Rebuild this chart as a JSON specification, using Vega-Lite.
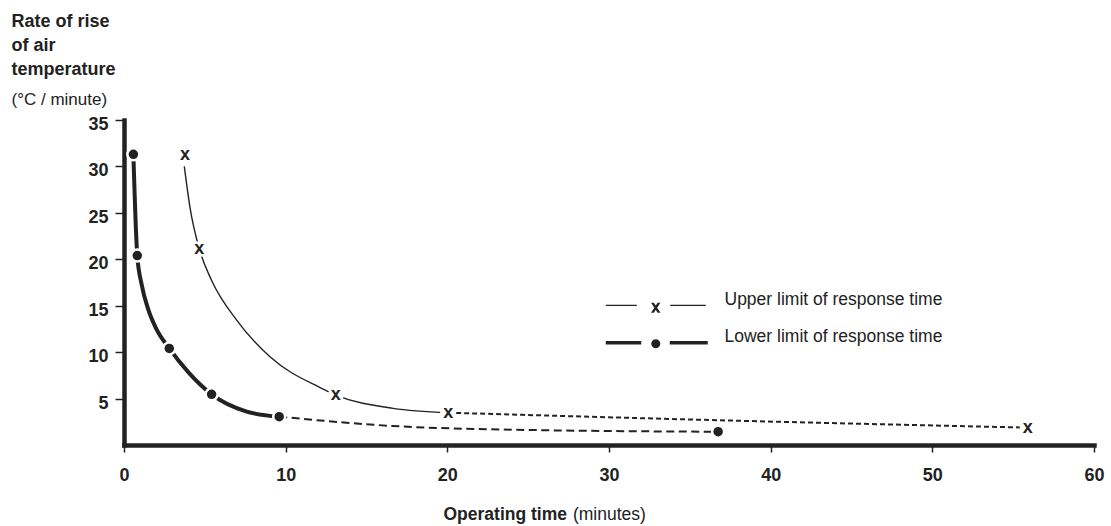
{
  "$schema": "https://vega.github.io/schema/vega-lite/v6.json",
  "width": 970,
  "height": 325,
  "autosize": {"type": "none"},
  "padding": {"left": 124, "top": 120, "right": 17, "bottom": 81},
  "background": "white",
  "config": {"font": "Liberation Sans", "view": {"stroke": null}, "axis": {"grid": false}},
  "datasets": {
    "curves": [
      {"seg": "upper_solid", "x": 3.73, "y": 30.0},
      {"seg": "upper_solid", "x": 4.08, "y": 25.6},
      {"seg": "upper_solid", "x": 4.66, "y": 21.1},
      {"seg": "upper_solid", "x": 5.4, "y": 17.8},
      {"seg": "upper_solid", "x": 6.97, "y": 13.45},
      {"seg": "upper_solid", "x": 9.03, "y": 9.5},
      {"seg": "upper_solid", "x": 12.1, "y": 6.2},
      {"seg": "upper_solid", "x": 13.1, "y": 5.38},
      {"seg": "upper_solid", "x": 16.65, "y": 3.95},
      {"seg": "upper_solid", "x": 20.05, "y": 3.48},
      {"seg": "upper_dashed", "x": 20.05, "y": 3.48},
      {"seg": "upper_dashed", "x": 35.6, "y": 2.72},
      {"seg": "upper_dashed", "x": 55.9, "y": 1.87},
      {"seg": "lower_solid", "x": 0.58, "y": 31.3},
      {"seg": "lower_solid", "x": 0.82, "y": 20.4},
      {"seg": "lower_solid", "x": 1.09, "y": 17.3},
      {"seg": "lower_solid", "x": 1.5, "y": 14.6},
      {"seg": "lower_solid", "x": 2.0, "y": 12.5},
      {"seg": "lower_solid", "x": 2.8, "y": 10.4},
      {"seg": "lower_solid", "x": 4.0, "y": 7.8},
      {"seg": "lower_solid", "x": 5.42, "y": 5.46},
      {"seg": "lower_solid", "x": 7.59, "y": 3.6},
      {"seg": "lower_solid", "x": 9.6, "y": 3.05},
      {"seg": "lower_dashed", "x": 9.6, "y": 3.05},
      {"seg": "lower_dashed", "x": 16.6, "y": 2.05},
      {"seg": "lower_dashed", "x": 25, "y": 1.62},
      {"seg": "lower_dashed", "x": 36.75, "y": 1.43}
    ],
    "markers": [
      {"series": "Upper limit of response time", "x": 3.77, "y": 31.2},
      {"series": "Upper limit of response time", "x": 4.66, "y": 21.1},
      {"series": "Upper limit of response time", "x": 13.1, "y": 5.38},
      {"series": "Upper limit of response time", "x": 20.05, "y": 3.48},
      {"series": "Upper limit of response time", "x": 55.9, "y": 1.87},
      {"series": "Lower limit of response time", "x": 0.58, "y": 31.3},
      {"series": "Lower limit of response time", "x": 0.82, "y": 20.4},
      {"series": "Lower limit of response time", "x": 2.8, "y": 10.4},
      {"series": "Lower limit of response time", "x": 5.42, "y": 5.46},
      {"series": "Lower limit of response time", "x": 9.6, "y": 3.05},
      {"series": "Lower limit of response time", "x": 36.75, "y": 1.43}
    ]
  },
  "layer": [
    {
      "data": {"name": "curves"},
      "transform": [{"filter": "datum.seg === 'upper_solid'"}],
      "mark": {"type": "line", "interpolate": "monotone", "color": "#222222", "strokeWidth": 1.4, "strokeCap": "butt"},
      "encoding": {
        "x": {
          "field": "x", "type": "quantitative",
          "scale": {"domain": [0, 60], "nice": false, "zero": false},
          "axis": {
            "values": [0, 10, 20, 30, 40, 50, 60],
            "domainColor": "#222222", "domainWidth": 4.5, "domainCap": "square",
            "tickColor": "#222222", "tickWidth": 1.5, "tickSize": 7,
            "labelFontSize": 18, "labelFontWeight": "bold", "labelColor": "#222222",
            "labelPadding": 14, "labelFlush": false, "labelOverlap": false, "labelBound": false,
            "title": "Operating time", "titleFontSize": 17.5, "titleFontWeight": "bold", "titleColor": "#222222",
            "titleX": 319, "titleY": 74, "titleAlign": "left", "titleBaseline": "alphabetic", "titleAngle": 0
          }
        },
        "y": {
          "field": "y", "type": "quantitative",
          "scale": {"domain": [0, 35], "nice": false, "zero": false},
          "axis": {
            "values": [5, 10, 15, 20, 25, 30, 35],
            "domainColor": "#222222", "domainWidth": 4.5, "domainCap": "square",
            "tickColor": "#222222", "tickWidth": 1.5, "tickSize": 9,
            "labelFontSize": 18, "labelFontWeight": "bold", "labelColor": "#222222",
            "labelPadding": 7, "labelOffset": 4.5, "labelOverlap": false, "labelBound": false,
            "title": ["Rate of rise", "of air", "temperature"],
            "titleFontSize": 18, "titleFontWeight": "bold", "titleColor": "#222222", "titleLineHeight": 24,
            "titleX": -113, "titleY": -94, "titleAlign": "left", "titleBaseline": "alphabetic", "titleAngle": 0
          }
        },
        "order": {"field": "x", "type": "quantitative"}
      }
    },
    {
      "data": {"name": "curves"},
      "transform": [{"filter": "datum.seg === 'upper_dashed'"}],
      "mark": {"type": "line", "interpolate": "monotone", "color": "#222222", "strokeWidth": 2, "strokeDash": [5, 3], "strokeCap": "butt"},
      "encoding": {
        "x": {"field": "x", "type": "quantitative", "scale": {"domain": [0, 60], "nice": false, "zero": false}, "axis": null},
        "y": {"field": "y", "type": "quantitative", "scale": {"domain": [0, 35], "nice": false, "zero": false}, "axis": null},
        "order": {"field": "x", "type": "quantitative"}
      }
    },
    {
      "data": {"name": "curves"},
      "transform": [{"filter": "datum.seg === 'lower_solid'"}],
      "mark": {"type": "line", "interpolate": "monotone", "color": "#222222", "strokeWidth": 4, "strokeCap": "butt"},
      "encoding": {
        "x": {"field": "x", "type": "quantitative", "scale": {"domain": [0, 60], "nice": false, "zero": false}, "axis": null},
        "y": {"field": "y", "type": "quantitative", "scale": {"domain": [0, 35], "nice": false, "zero": false}, "axis": null},
        "order": {"field": "x", "type": "quantitative"}
      }
    },
    {
      "data": {"name": "curves"},
      "transform": [{"filter": "datum.seg === 'lower_dashed'"}],
      "mark": {"type": "line", "interpolate": "monotone", "color": "#222222", "strokeWidth": 2, "strokeDash": [8, 4.5], "strokeCap": "butt"},
      "encoding": {
        "x": {"field": "x", "type": "quantitative", "scale": {"domain": [0, 60], "nice": false, "zero": false}, "axis": null},
        "y": {"field": "y", "type": "quantitative", "scale": {"domain": [0, 35], "nice": false, "zero": false}, "axis": null},
        "order": {"field": "x", "type": "quantitative"}
      }
    },
    {
      "data": {"name": "markers"},
      "transform": [{"filter": "datum.series === 'Upper limit of response time'"}],
      "mark": {"type": "point", "shape": "circle", "filled": true, "fill": "white", "stroke": null, "size": 256, "opacity": 1},
      "encoding": {
        "x": {"field": "x", "type": "quantitative", "scale": {"domain": [0, 60], "nice": false, "zero": false}, "axis": null},
        "y": {"field": "y", "type": "quantitative", "scale": {"domain": [0, 35], "nice": false, "zero": false}, "axis": null}
      }
    },
    {
      "data": {"name": "markers"},
      "transform": [{"filter": "datum.series === 'Upper limit of response time'"}],
      "mark": {"type": "text", "text": "x", "fontSize": 18, "fontWeight": "bold", "baseline": "alphabetic", "align": "center", "dy": 5, "color": "#222222"},
      "encoding": {
        "x": {"field": "x", "type": "quantitative", "scale": {"domain": [0, 60], "nice": false, "zero": false}, "axis": null},
        "y": {"field": "y", "type": "quantitative", "scale": {"domain": [0, 35], "nice": false, "zero": false}, "axis": null}
      }
    },
    {
      "data": {"name": "markers"},
      "transform": [{"filter": "datum.series === 'Lower limit of response time'"}],
      "mark": {"type": "point", "shape": "circle", "filled": true, "fill": "#222222", "stroke": "white", "strokeWidth": 2.5, "size": 144, "opacity": 1},
      "encoding": {
        "x": {"field": "x", "type": "quantitative", "scale": {"domain": [0, 60], "nice": false, "zero": false}, "axis": null},
        "y": {"field": "y", "type": "quantitative", "scale": {"domain": [0, 35], "nice": false, "zero": false}, "axis": null}
      }
    },
    {
      "data": {"name": "markers"},
      "transform": [{"filter": "datum.series === 'Upper limit of response time'"}],
      "mark": {"type": "point", "opacity": 0, "size": 100, "filled": true, "fill": "#222222", "strokeWidth": 1.3},
      "encoding": {
        "x": {
          "field": "x", "type": "quantitative", "scale": {"domain": [0, 60], "nice": false, "zero": false},
          "axis": {
            "orient": "top", "domain": false, "ticks": false, "labels": false,
            "title": "(°C / minute)", "titleFontSize": 17, "titleFontWeight": "normal", "titleColor": "#222222",
            "titleX": -113, "titleY": -16, "titleAlign": "left", "titleBaseline": "alphabetic", "titleAngle": 0
          }
        },
        "y": {
          "field": "y", "type": "quantitative", "scale": {"domain": [0, 35], "nice": false, "zero": false},
          "axis": {
            "orient": "right", "domain": false, "ticks": false, "labels": false,
            "title": "(minutes)", "titleFontSize": 17.5, "titleFontWeight": "normal", "titleColor": "#222222",
            "titleX": -521.6, "titleY": 399, "titleAlign": "left", "titleBaseline": "alphabetic", "titleAngle": 0
          }
        },
        "stroke": {
          "field": "series", "type": "nominal",
          "scale": {"domain": ["Upper limit of response time"], "range": ["#222222"]},
          "legend": {
            "orient": "none", "legendX": 523, "legendY": 171, "title": null, "padding": 0,
            "symbolType": "M-10,1.14H-3.8M2.9,1.14H10M-0.7,0.73L-0.45,0.73L0.7,2.47L0.45,2.47ZM0.7,0.73L0.45,0.73L-0.7,2.47L-0.45,2.47Z",
            "symbolSize": 100, "symbolFillColor": "#222222", "symbolOpacity": 1, "symbolStrokeWidth": 1.3,
            "labelFontSize": 17.5, "labelColor": "#222222", "labelOffset": 60, "labelLimit": 400
          }
        }
      }
    },
    {
      "data": {"name": "markers"},
      "transform": [{"filter": "datum.series === 'Lower limit of response time'"}],
      "mark": {"type": "point", "opacity": 0, "size": 100, "filled": true, "strokeWidth": 3.5},
      "encoding": {
        "x": {"field": "x", "type": "quantitative", "scale": {"domain": [0, 60], "nice": false, "zero": false}, "axis": null},
        "y": {"field": "y", "type": "quantitative", "scale": {"domain": [0, 35], "nice": false, "zero": false}, "axis": null},
        "fill": {
          "field": "series", "type": "nominal",
          "scale": {"domain": ["Lower limit of response time"], "range": ["#222222"]},
          "legend": {
            "orient": "none", "legendX": 523, "legendY": 208, "title": null, "padding": 0,
            "symbolType": "M-10,1.2H-2.9M2.8,1.2H10.4M0.55,1.4L0.476,1.675L0.275,1.876L0,1.95L-0.275,1.876L-0.476,1.675L-0.55,1.4L-0.476,1.125L-0.275,0.924L0,0.85L0.275,0.924L0.476,1.125Z",
            "symbolSize": 100, "symbolStrokeColor": "#222222", "symbolOpacity": 1, "symbolStrokeWidth": 3.5,
            "labelFontSize": 17.5, "labelColor": "#222222", "labelOffset": 60, "labelLimit": 400
          }
        }
      }
    }
  ],
  "resolve": {"axis": {"x": "independent", "y": "independent"}}
}
